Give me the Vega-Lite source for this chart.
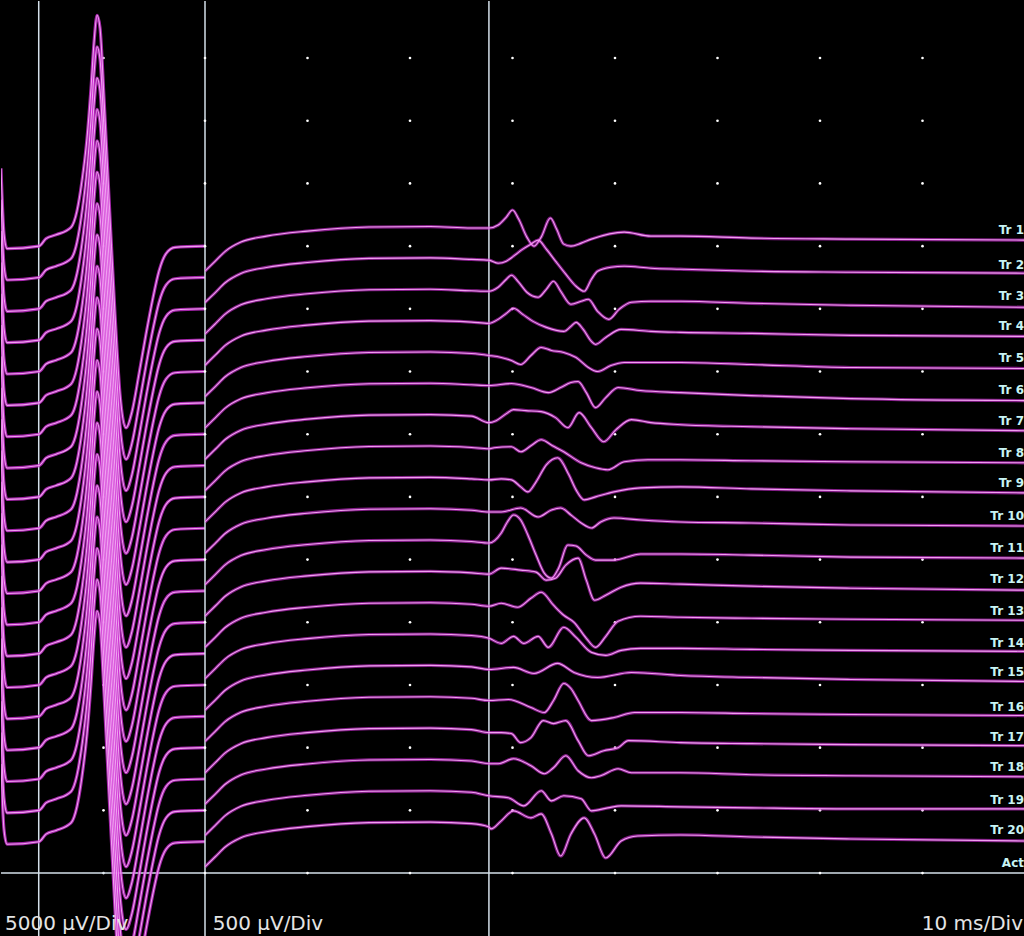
{
"$schema":"https://vega.github.io/schema/vega-lite/v6.json",
"background":"#000000",
"padding":0,
"spacing":0,
"bounds":"flush",
"config":{"view":{"stroke":null}},
"datasets":{
"dl":[{"x":10,"y":0},{"x":10,"y":5000},{"x":10,"y":10000},{"x":10,"y":15000},{"x":10,"y":20000},{"x":10,"y":25000},{"x":10,"y":30000},{"x":10,"y":35000},{"x":10,"y":40000},{"x":10,"y":45000},{"x":10,"y":50000},{"x":10,"y":55000},{"x":10,"y":60000},{"x":10,"y":65000}],
"dr":[
{"x":0,"y":0},{"x":0,"y":500},{"x":0,"y":1000},{"x":0,"y":1500},{"x":0,"y":2000},{"x":0,"y":2500},{"x":0,"y":3000},{"x":0,"y":3500},{"x":0,"y":4000},{"x":0,"y":4500},{"x":0,"y":5000},{"x":0,"y":5500},{"x":0,"y":6000},{"x":0,"y":6500},
{"x":10,"y":0},{"x":10,"y":500},{"x":10,"y":1000},{"x":10,"y":1500},{"x":10,"y":2000},{"x":10,"y":2500},{"x":10,"y":3000},{"x":10,"y":3500},{"x":10,"y":4000},{"x":10,"y":4500},{"x":10,"y":5000},{"x":10,"y":5500},{"x":10,"y":6000},{"x":10,"y":6500},
{"x":20,"y":0},{"x":20,"y":500},{"x":20,"y":1000},{"x":20,"y":1500},{"x":20,"y":2000},{"x":20,"y":2500},{"x":20,"y":3000},{"x":20,"y":3500},{"x":20,"y":4000},{"x":20,"y":4500},{"x":20,"y":5000},{"x":20,"y":5500},{"x":20,"y":6000},{"x":20,"y":6500},
{"x":30,"y":0},{"x":30,"y":500},{"x":30,"y":1000},{"x":30,"y":1500},{"x":30,"y":2000},{"x":30,"y":2500},{"x":30,"y":3000},{"x":30,"y":3500},{"x":30,"y":4000},{"x":30,"y":4500},{"x":30,"y":5000},{"x":30,"y":5500},{"x":30,"y":6000},{"x":30,"y":6500},
{"x":40,"y":0},{"x":40,"y":500},{"x":40,"y":1000},{"x":40,"y":1500},{"x":40,"y":2000},{"x":40,"y":2500},{"x":40,"y":3000},{"x":40,"y":3500},{"x":40,"y":4000},{"x":40,"y":4500},{"x":40,"y":5000},{"x":40,"y":5500},{"x":40,"y":6000},{"x":40,"y":6500},
{"x":50,"y":0},{"x":50,"y":500},{"x":50,"y":1000},{"x":50,"y":1500},{"x":50,"y":2000},{"x":50,"y":2500},{"x":50,"y":3000},{"x":50,"y":3500},{"x":50,"y":4000},{"x":50,"y":4500},{"x":50,"y":5000},{"x":50,"y":5500},{"x":50,"y":6000},{"x":50,"y":6500},
{"x":60,"y":0},{"x":60,"y":500},{"x":60,"y":1000},{"x":60,"y":1500},{"x":60,"y":2000},{"x":60,"y":2500},{"x":60,"y":3000},{"x":60,"y":3500},{"x":60,"y":4000},{"x":60,"y":4500},{"x":60,"y":5000},{"x":60,"y":5500},{"x":60,"y":6000},{"x":60,"y":6500},
{"x":70,"y":0},{"x":70,"y":500},{"x":70,"y":1000},{"x":70,"y":1500},{"x":70,"y":2000},{"x":70,"y":2500},{"x":70,"y":3000},{"x":70,"y":3500},{"x":70,"y":4000},{"x":70,"y":4500},{"x":70,"y":5000},{"x":70,"y":5500},{"x":70,"y":6000},{"x":70,"y":6500}],
"L":[
{"k":1,"x":0,"y":56200},{"k":1,"x":0.29,"y":51000},{"k":1,"x":0.59,"y":49800},{"k":1,"x":3.71,"y":50000},{"k":1,"x":4.39,"y":50600},{"k":1,"x":5.37,"y":50900},{"k":1,"x":6.83,"y":51500},{"k":1,"x":7.41,"y":52800},{"k":1,"x":7.9,"y":55200},{"k":1,"x":8.39,"y":58600},{"k":1,"x":8.78,"y":62600},{"k":1,"x":9.07,"y":66200},{"k":1,"x":9.37,"y":68400},{"k":1,"x":9.66,"y":67400},{"k":1,"x":10.05,"y":61800},{"k":1,"x":10.54,"y":53800},{"k":1,"x":11.12,"y":44600},{"k":1,"x":11.61,"y":38200},{"k":1,"x":12.2,"y":35500},{"k":1,"x":12.78,"y":36800},{"k":1,"x":13.46,"y":39800},{"k":1,"x":14.15,"y":43000},{"k":1,"x":14.83,"y":45900},{"k":1,"x":15.41,"y":48000},{"k":1,"x":16.1,"y":49400},{"k":1,"x":16.98,"y":49900},{"k":1,"x":19.9,"y":50000},
{"k":2,"x":0,"y":53700},{"k":2,"x":0.29,"y":48500},{"k":2,"x":0.59,"y":47300},{"k":2,"x":3.71,"y":47500},{"k":2,"x":4.39,"y":48100},{"k":2,"x":5.37,"y":48400},{"k":2,"x":6.83,"y":49000},{"k":2,"x":7.41,"y":50300},{"k":2,"x":7.9,"y":52700},{"k":2,"x":8.39,"y":56100},{"k":2,"x":8.78,"y":60100},{"k":2,"x":9.07,"y":63700},{"k":2,"x":9.37,"y":65900},{"k":2,"x":9.66,"y":64900},{"k":2,"x":10.05,"y":59300},{"k":2,"x":10.54,"y":51300},{"k":2,"x":11.12,"y":42100},{"k":2,"x":11.61,"y":35700},{"k":2,"x":12.2,"y":33000},{"k":2,"x":12.78,"y":34300},{"k":2,"x":13.46,"y":37300},{"k":2,"x":14.15,"y":40500},{"k":2,"x":14.83,"y":43400},{"k":2,"x":15.41,"y":45500},{"k":2,"x":16.1,"y":46900},{"k":2,"x":16.98,"y":47400},{"k":2,"x":19.9,"y":47500},
{"k":3,"x":0,"y":51200},{"k":3,"x":0.29,"y":46000},{"k":3,"x":0.59,"y":44800},{"k":3,"x":3.71,"y":45000},{"k":3,"x":4.39,"y":45600},{"k":3,"x":5.37,"y":45900},{"k":3,"x":6.83,"y":46500},{"k":3,"x":7.41,"y":47800},{"k":3,"x":7.9,"y":50200},{"k":3,"x":8.39,"y":53600},{"k":3,"x":8.78,"y":57600},{"k":3,"x":9.07,"y":61200},{"k":3,"x":9.37,"y":63400},{"k":3,"x":9.66,"y":62400},{"k":3,"x":10.05,"y":56800},{"k":3,"x":10.54,"y":48800},{"k":3,"x":11.12,"y":39600},{"k":3,"x":11.61,"y":33200},{"k":3,"x":12.2,"y":30500},{"k":3,"x":12.78,"y":31800},{"k":3,"x":13.46,"y":34800},{"k":3,"x":14.15,"y":38000},{"k":3,"x":14.83,"y":40900},{"k":3,"x":15.41,"y":43000},{"k":3,"x":16.1,"y":44400},{"k":3,"x":16.98,"y":44900},{"k":3,"x":19.9,"y":45000},
{"k":4,"x":0,"y":48700},{"k":4,"x":0.29,"y":43500},{"k":4,"x":0.59,"y":42300},{"k":4,"x":3.71,"y":42500},{"k":4,"x":4.39,"y":43100},{"k":4,"x":5.37,"y":43400},{"k":4,"x":6.83,"y":44000},{"k":4,"x":7.41,"y":45300},{"k":4,"x":7.9,"y":47700},{"k":4,"x":8.39,"y":51100},{"k":4,"x":8.78,"y":55100},{"k":4,"x":9.07,"y":58700},{"k":4,"x":9.37,"y":60900},{"k":4,"x":9.66,"y":59900},{"k":4,"x":10.05,"y":54300},{"k":4,"x":10.54,"y":46300},{"k":4,"x":11.12,"y":37100},{"k":4,"x":11.61,"y":30700},{"k":4,"x":12.2,"y":28000},{"k":4,"x":12.78,"y":29300},{"k":4,"x":13.46,"y":32300},{"k":4,"x":14.15,"y":35500},{"k":4,"x":14.83,"y":38400},{"k":4,"x":15.41,"y":40500},{"k":4,"x":16.1,"y":41900},{"k":4,"x":16.98,"y":42400},{"k":4,"x":19.9,"y":42500},
{"k":5,"x":0,"y":46200},{"k":5,"x":0.29,"y":41000},{"k":5,"x":0.59,"y":39800},{"k":5,"x":3.71,"y":40000},{"k":5,"x":4.39,"y":40600},{"k":5,"x":5.37,"y":40900},{"k":5,"x":6.83,"y":41500},{"k":5,"x":7.41,"y":42800},{"k":5,"x":7.9,"y":45200},{"k":5,"x":8.39,"y":48600},{"k":5,"x":8.78,"y":52600},{"k":5,"x":9.07,"y":56200},{"k":5,"x":9.37,"y":58400},{"k":5,"x":9.66,"y":57400},{"k":5,"x":10.05,"y":51800},{"k":5,"x":10.54,"y":43800},{"k":5,"x":11.12,"y":34600},{"k":5,"x":11.61,"y":28200},{"k":5,"x":12.2,"y":25500},{"k":5,"x":12.78,"y":26800},{"k":5,"x":13.46,"y":29800},{"k":5,"x":14.15,"y":33000},{"k":5,"x":14.83,"y":35900},{"k":5,"x":15.41,"y":38000},{"k":5,"x":16.1,"y":39400},{"k":5,"x":16.98,"y":39900},{"k":5,"x":19.9,"y":40000},
{"k":6,"x":0,"y":43700},{"k":6,"x":0.29,"y":38500},{"k":6,"x":0.59,"y":37300},{"k":6,"x":3.71,"y":37500},{"k":6,"x":4.39,"y":38100},{"k":6,"x":5.37,"y":38400},{"k":6,"x":6.83,"y":39000},{"k":6,"x":7.41,"y":40300},{"k":6,"x":7.9,"y":42700},{"k":6,"x":8.39,"y":46100},{"k":6,"x":8.78,"y":50100},{"k":6,"x":9.07,"y":53700},{"k":6,"x":9.37,"y":55900},{"k":6,"x":9.66,"y":54900},{"k":6,"x":10.05,"y":49300},{"k":6,"x":10.54,"y":41300},{"k":6,"x":11.12,"y":32100},{"k":6,"x":11.61,"y":25700},{"k":6,"x":12.2,"y":23000},{"k":6,"x":12.78,"y":24300},{"k":6,"x":13.46,"y":27300},{"k":6,"x":14.15,"y":30500},{"k":6,"x":14.83,"y":33400},{"k":6,"x":15.41,"y":35500},{"k":6,"x":16.1,"y":36900},{"k":6,"x":16.98,"y":37400},{"k":6,"x":19.9,"y":37500},
{"k":7,"x":0,"y":41200},{"k":7,"x":0.29,"y":36000},{"k":7,"x":0.59,"y":34800},{"k":7,"x":3.71,"y":35000},{"k":7,"x":4.39,"y":35600},{"k":7,"x":5.37,"y":35900},{"k":7,"x":6.83,"y":36500},{"k":7,"x":7.41,"y":37800},{"k":7,"x":7.9,"y":40200},{"k":7,"x":8.39,"y":43600},{"k":7,"x":8.78,"y":47600},{"k":7,"x":9.07,"y":51200},{"k":7,"x":9.37,"y":53400},{"k":7,"x":9.66,"y":52400},{"k":7,"x":10.05,"y":46800},{"k":7,"x":10.54,"y":38800},{"k":7,"x":11.12,"y":29600},{"k":7,"x":11.61,"y":23200},{"k":7,"x":12.2,"y":20500},{"k":7,"x":12.78,"y":21800},{"k":7,"x":13.46,"y":24800},{"k":7,"x":14.15,"y":28000},{"k":7,"x":14.83,"y":30900},{"k":7,"x":15.41,"y":33000},{"k":7,"x":16.1,"y":34400},{"k":7,"x":16.98,"y":34900},{"k":7,"x":19.9,"y":35000},
{"k":8,"x":0,"y":38700},{"k":8,"x":0.29,"y":33500},{"k":8,"x":0.59,"y":32300},{"k":8,"x":3.71,"y":32500},{"k":8,"x":4.39,"y":33100},{"k":8,"x":5.37,"y":33400},{"k":8,"x":6.83,"y":34000},{"k":8,"x":7.41,"y":35300},{"k":8,"x":7.9,"y":37700},{"k":8,"x":8.39,"y":41100},{"k":8,"x":8.78,"y":45100},{"k":8,"x":9.07,"y":48700},{"k":8,"x":9.37,"y":50900},{"k":8,"x":9.66,"y":49900},{"k":8,"x":10.05,"y":44300},{"k":8,"x":10.54,"y":36300},{"k":8,"x":11.12,"y":27100},{"k":8,"x":11.61,"y":20700},{"k":8,"x":12.2,"y":18000},{"k":8,"x":12.78,"y":19300},{"k":8,"x":13.46,"y":22300},{"k":8,"x":14.15,"y":25500},{"k":8,"x":14.83,"y":28400},{"k":8,"x":15.41,"y":30500},{"k":8,"x":16.1,"y":31900},{"k":8,"x":16.98,"y":32400},{"k":8,"x":19.9,"y":32500},
{"k":9,"x":0,"y":36200},{"k":9,"x":0.29,"y":31000},{"k":9,"x":0.59,"y":29800},{"k":9,"x":3.71,"y":30000},{"k":9,"x":4.39,"y":30600},{"k":9,"x":5.37,"y":30900},{"k":9,"x":6.83,"y":31500},{"k":9,"x":7.41,"y":32800},{"k":9,"x":7.9,"y":35200},{"k":9,"x":8.39,"y":38600},{"k":9,"x":8.78,"y":42600},{"k":9,"x":9.07,"y":46200},{"k":9,"x":9.37,"y":48400},{"k":9,"x":9.66,"y":47400},{"k":9,"x":10.05,"y":41800},{"k":9,"x":10.54,"y":33800},{"k":9,"x":11.12,"y":24600},{"k":9,"x":11.61,"y":18200},{"k":9,"x":12.2,"y":15500},{"k":9,"x":12.78,"y":16800},{"k":9,"x":13.46,"y":19800},{"k":9,"x":14.15,"y":23000},{"k":9,"x":14.83,"y":25900},{"k":9,"x":15.41,"y":28000},{"k":9,"x":16.1,"y":29400},{"k":9,"x":16.98,"y":29900},{"k":9,"x":19.9,"y":30000},
{"k":10,"x":0,"y":33700},{"k":10,"x":0.29,"y":28500},{"k":10,"x":0.59,"y":27300},{"k":10,"x":3.71,"y":27500},{"k":10,"x":4.39,"y":28100},{"k":10,"x":5.37,"y":28400},{"k":10,"x":6.83,"y":29000},{"k":10,"x":7.41,"y":30300},{"k":10,"x":7.9,"y":32700},{"k":10,"x":8.39,"y":36100},{"k":10,"x":8.78,"y":40100},{"k":10,"x":9.07,"y":43700},{"k":10,"x":9.37,"y":45900},{"k":10,"x":9.66,"y":44900},{"k":10,"x":10.05,"y":39300},{"k":10,"x":10.54,"y":31300},{"k":10,"x":11.12,"y":22100},{"k":10,"x":11.61,"y":15700},{"k":10,"x":12.2,"y":13000},{"k":10,"x":12.78,"y":14300},{"k":10,"x":13.46,"y":17300},{"k":10,"x":14.15,"y":20500},{"k":10,"x":14.83,"y":23400},{"k":10,"x":15.41,"y":25500},{"k":10,"x":16.1,"y":26900},{"k":10,"x":16.98,"y":27400},{"k":10,"x":19.9,"y":27500},
{"k":11,"x":0,"y":31200},{"k":11,"x":0.29,"y":26000},{"k":11,"x":0.59,"y":24800},{"k":11,"x":3.71,"y":25000},{"k":11,"x":4.39,"y":25600},{"k":11,"x":5.37,"y":25900},{"k":11,"x":6.83,"y":26500},{"k":11,"x":7.41,"y":27800},{"k":11,"x":7.9,"y":30200},{"k":11,"x":8.39,"y":33600},{"k":11,"x":8.78,"y":37600},{"k":11,"x":9.07,"y":41200},{"k":11,"x":9.37,"y":43400},{"k":11,"x":9.66,"y":42400},{"k":11,"x":10.05,"y":36800},{"k":11,"x":10.54,"y":28800},{"k":11,"x":11.12,"y":19600},{"k":11,"x":11.61,"y":13200},{"k":11,"x":12.2,"y":10500},{"k":11,"x":12.78,"y":11800},{"k":11,"x":13.46,"y":14800},{"k":11,"x":14.15,"y":18000},{"k":11,"x":14.83,"y":20900},{"k":11,"x":15.41,"y":23000},{"k":11,"x":16.1,"y":24400},{"k":11,"x":16.98,"y":24900},{"k":11,"x":19.9,"y":25000},
{"k":12,"x":0,"y":28700},{"k":12,"x":0.29,"y":23500},{"k":12,"x":0.59,"y":22300},{"k":12,"x":3.71,"y":22500},{"k":12,"x":4.39,"y":23100},{"k":12,"x":5.37,"y":23400},{"k":12,"x":6.83,"y":24000},{"k":12,"x":7.41,"y":25300},{"k":12,"x":7.9,"y":27700},{"k":12,"x":8.39,"y":31100},{"k":12,"x":8.78,"y":35100},{"k":12,"x":9.07,"y":38700},{"k":12,"x":9.37,"y":40900},{"k":12,"x":9.66,"y":39900},{"k":12,"x":10.05,"y":34300},{"k":12,"x":10.54,"y":26300},{"k":12,"x":11.12,"y":17100},{"k":12,"x":11.61,"y":10700},{"k":12,"x":12.2,"y":8000},{"k":12,"x":12.78,"y":9300},{"k":12,"x":13.46,"y":12300},{"k":12,"x":14.15,"y":15500},{"k":12,"x":14.83,"y":18400},{"k":12,"x":15.41,"y":20500},{"k":12,"x":16.1,"y":21900},{"k":12,"x":16.98,"y":22400},{"k":12,"x":19.9,"y":22500},
{"k":13,"x":0,"y":26200},{"k":13,"x":0.29,"y":21000},{"k":13,"x":0.59,"y":19800},{"k":13,"x":3.71,"y":20000},{"k":13,"x":4.39,"y":20600},{"k":13,"x":5.37,"y":20900},{"k":13,"x":6.83,"y":21500},{"k":13,"x":7.41,"y":22800},{"k":13,"x":7.9,"y":25200},{"k":13,"x":8.39,"y":28600},{"k":13,"x":8.78,"y":32600},{"k":13,"x":9.07,"y":36200},{"k":13,"x":9.37,"y":38400},{"k":13,"x":9.66,"y":37400},{"k":13,"x":10.05,"y":31800},{"k":13,"x":10.54,"y":23800},{"k":13,"x":11.12,"y":14600},{"k":13,"x":11.61,"y":8200},{"k":13,"x":12.2,"y":5500},{"k":13,"x":12.78,"y":6800},{"k":13,"x":13.46,"y":9800},{"k":13,"x":14.15,"y":13000},{"k":13,"x":14.83,"y":15900},{"k":13,"x":15.41,"y":18000},{"k":13,"x":16.1,"y":19400},{"k":13,"x":16.98,"y":19900},{"k":13,"x":19.9,"y":20000},
{"k":14,"x":0,"y":23700},{"k":14,"x":0.29,"y":18500},{"k":14,"x":0.59,"y":17300},{"k":14,"x":3.71,"y":17500},{"k":14,"x":4.39,"y":18100},{"k":14,"x":5.37,"y":18400},{"k":14,"x":6.83,"y":19000},{"k":14,"x":7.41,"y":20300},{"k":14,"x":7.9,"y":22700},{"k":14,"x":8.39,"y":26100},{"k":14,"x":8.78,"y":30100},{"k":14,"x":9.07,"y":33700},{"k":14,"x":9.37,"y":35900},{"k":14,"x":9.66,"y":34900},{"k":14,"x":10.05,"y":29300},{"k":14,"x":10.54,"y":21300},{"k":14,"x":11.12,"y":12100},{"k":14,"x":11.61,"y":5700},{"k":14,"x":12.2,"y":3000},{"k":14,"x":12.78,"y":4300},{"k":14,"x":13.46,"y":7300},{"k":14,"x":14.15,"y":10500},{"k":14,"x":14.83,"y":13400},{"k":14,"x":15.41,"y":15500},{"k":14,"x":16.1,"y":16900},{"k":14,"x":16.98,"y":17400},{"k":14,"x":19.9,"y":17500},
{"k":15,"x":0,"y":21200},{"k":15,"x":0.29,"y":16000},{"k":15,"x":0.59,"y":14800},{"k":15,"x":3.71,"y":15000},{"k":15,"x":4.39,"y":15600},{"k":15,"x":5.37,"y":15900},{"k":15,"x":6.83,"y":16500},{"k":15,"x":7.41,"y":17800},{"k":15,"x":7.9,"y":20200},{"k":15,"x":8.39,"y":23600},{"k":15,"x":8.78,"y":27600},{"k":15,"x":9.07,"y":31200},{"k":15,"x":9.37,"y":33400},{"k":15,"x":9.66,"y":32400},{"k":15,"x":10.05,"y":26800},{"k":15,"x":10.54,"y":18800},{"k":15,"x":11.12,"y":9600},{"k":15,"x":11.61,"y":3200},{"k":15,"x":12.2,"y":500},{"k":15,"x":12.78,"y":1800},{"k":15,"x":13.46,"y":4800},{"k":15,"x":14.15,"y":8000},{"k":15,"x":14.83,"y":10900},{"k":15,"x":15.41,"y":13000},{"k":15,"x":16.1,"y":14400},{"k":15,"x":16.98,"y":14900},{"k":15,"x":19.9,"y":15000},
{"k":16,"x":0,"y":18700},{"k":16,"x":0.29,"y":13500},{"k":16,"x":0.59,"y":12300},{"k":16,"x":3.71,"y":12500},{"k":16,"x":4.39,"y":13100},{"k":16,"x":5.37,"y":13400},{"k":16,"x":6.83,"y":14000},{"k":16,"x":7.41,"y":15300},{"k":16,"x":7.9,"y":17700},{"k":16,"x":8.39,"y":21100},{"k":16,"x":8.78,"y":25100},{"k":16,"x":9.07,"y":28700},{"k":16,"x":9.37,"y":30900},{"k":16,"x":9.66,"y":29900},{"k":16,"x":10.05,"y":24300},{"k":16,"x":10.54,"y":16300},{"k":16,"x":11.12,"y":7100},{"k":16,"x":11.61,"y":700},{"k":16,"x":12.2,"y":-2000},{"k":16,"x":12.78,"y":-700},{"k":16,"x":13.46,"y":2300},{"k":16,"x":14.15,"y":5500},{"k":16,"x":14.83,"y":8400},{"k":16,"x":15.41,"y":10500},{"k":16,"x":16.1,"y":11900},{"k":16,"x":16.98,"y":12400},{"k":16,"x":19.9,"y":12500},
{"k":17,"x":0,"y":16200},{"k":17,"x":0.29,"y":11000},{"k":17,"x":0.59,"y":9800},{"k":17,"x":3.71,"y":10000},{"k":17,"x":4.39,"y":10600},{"k":17,"x":5.37,"y":10900},{"k":17,"x":6.83,"y":11500},{"k":17,"x":7.41,"y":12800},{"k":17,"x":7.9,"y":15200},{"k":17,"x":8.39,"y":18600},{"k":17,"x":8.78,"y":22600},{"k":17,"x":9.07,"y":26200},{"k":17,"x":9.37,"y":28400},{"k":17,"x":9.66,"y":27400},{"k":17,"x":10.05,"y":21800},{"k":17,"x":10.54,"y":13800},{"k":17,"x":11.12,"y":4600},{"k":17,"x":11.61,"y":-1800},{"k":17,"x":12.2,"y":-4500},{"k":17,"x":12.78,"y":-3200},{"k":17,"x":13.46,"y":-200},{"k":17,"x":14.15,"y":3000},{"k":17,"x":14.83,"y":5900},{"k":17,"x":15.41,"y":8000},{"k":17,"x":16.1,"y":9400},{"k":17,"x":16.98,"y":9900},{"k":17,"x":19.9,"y":10000},
{"k":18,"x":0,"y":13700},{"k":18,"x":0.29,"y":8500},{"k":18,"x":0.59,"y":7300},{"k":18,"x":3.71,"y":7500},{"k":18,"x":4.39,"y":8100},{"k":18,"x":5.37,"y":8400},{"k":18,"x":6.83,"y":9000},{"k":18,"x":7.41,"y":10300},{"k":18,"x":7.9,"y":12700},{"k":18,"x":8.39,"y":16100},{"k":18,"x":8.78,"y":20100},{"k":18,"x":9.07,"y":23700},{"k":18,"x":9.37,"y":25900},{"k":18,"x":9.66,"y":24900},{"k":18,"x":10.05,"y":19300},{"k":18,"x":10.54,"y":11300},{"k":18,"x":11.12,"y":2100},{"k":18,"x":11.61,"y":-4300},{"k":18,"x":12.2,"y":-7000},{"k":18,"x":12.78,"y":-5700},{"k":18,"x":13.46,"y":-2700},{"k":18,"x":14.15,"y":500},{"k":18,"x":14.83,"y":3400},{"k":18,"x":15.41,"y":5500},{"k":18,"x":16.1,"y":6900},{"k":18,"x":16.98,"y":7400},{"k":18,"x":19.9,"y":7500},
{"k":19,"x":0,"y":11200},{"k":19,"x":0.29,"y":6000},{"k":19,"x":0.59,"y":4800},{"k":19,"x":3.71,"y":5000},{"k":19,"x":4.39,"y":5600},{"k":19,"x":5.37,"y":5900},{"k":19,"x":6.83,"y":6500},{"k":19,"x":7.41,"y":7800},{"k":19,"x":7.9,"y":10200},{"k":19,"x":8.39,"y":13600},{"k":19,"x":8.78,"y":17600},{"k":19,"x":9.07,"y":21200},{"k":19,"x":9.37,"y":23400},{"k":19,"x":9.66,"y":22400},{"k":19,"x":10.05,"y":16800},{"k":19,"x":10.54,"y":8800},{"k":19,"x":11.12,"y":-400},{"k":19,"x":11.61,"y":-6800},{"k":19,"x":12.2,"y":-9500},{"k":19,"x":12.78,"y":-8200},{"k":19,"x":13.46,"y":-5200},{"k":19,"x":14.15,"y":-2000},{"k":19,"x":14.83,"y":900},{"k":19,"x":15.41,"y":3000},{"k":19,"x":16.1,"y":4400},{"k":19,"x":16.98,"y":4900},{"k":19,"x":19.9,"y":5000},
{"k":20,"x":0,"y":8700},{"k":20,"x":0.29,"y":3500},{"k":20,"x":0.59,"y":2300},{"k":20,"x":3.71,"y":2500},{"k":20,"x":4.39,"y":3100},{"k":20,"x":5.37,"y":3400},{"k":20,"x":6.83,"y":4000},{"k":20,"x":7.41,"y":5300},{"k":20,"x":7.9,"y":7700},{"k":20,"x":8.39,"y":11100},{"k":20,"x":8.78,"y":15100},{"k":20,"x":9.07,"y":18700},{"k":20,"x":9.37,"y":20900},{"k":20,"x":9.66,"y":19900},{"k":20,"x":10.05,"y":14300},{"k":20,"x":10.54,"y":6300},{"k":20,"x":11.12,"y":-2900},{"k":20,"x":11.61,"y":-9300},{"k":20,"x":12.2,"y":-12000},{"k":20,"x":12.78,"y":-10700},{"k":20,"x":13.46,"y":-7700},{"k":20,"x":14.15,"y":-4500},{"k":20,"x":14.83,"y":-1600},{"k":20,"x":15.41,"y":500},{"k":20,"x":16.1,"y":1900},{"k":20,"x":16.98,"y":2400},{"k":20,"x":19.9,"y":2500}
],
"R":[
{"k":1,"x":0,"y":4800},{"k":1,"x":1,"y":4880},{"k":1,"x":2,"y":4960},{"k":1,"x":3.5,"y":5032},{"k":1,"x":6,"y":5080},{"k":1,"x":10,"y":5120},{"k":1,"x":16,"y":5152},{"k":1,"x":22,"y":5156},{"k":1,"x":26,"y":5144},
{"k":1,"x":27.7,"y":5144},{"k":1,"x":28.6,"y":5168},{"k":1,"x":29.4,"y":5232},{"k":1,"x":30.0,"y":5288},{"k":1,"x":30.6,"y":5216},{"k":1,"x":31.4,"y":5072},{"k":1,"x":32.1,"y":5000},{"k":1,"x":32.8,"y":5072},{"k":1,"x":33.7,"y":5224},{"k":1,"x":34.3,"y":5136},{"k":1,"x":35.0,"y":5016},{"k":1,"x":35.7,"y":5000},{"k":1,"x":36.7,"y":5024},{"k":1,"x":37.7,"y":5056},{"k":1,"x":40.9,"y":5112},{"k":1,"x":43.5,"y":5080},{"k":1,"x":46.4,"y":5080},{"k":1,"x":53.3,"y":5064},{"k":1,"x":63,"y":5056},{"k":1,"x":80,"y":5048},
{"k":2,"x":0,"y":4550},{"k":2,"x":1,"y":4630},{"k":2,"x":2,"y":4710},{"k":2,"x":3.5,"y":4782},{"k":2,"x":6,"y":4830},{"k":2,"x":10,"y":4870},{"k":2,"x":16,"y":4902},{"k":2,"x":22,"y":4906},{"k":2,"x":26,"y":4894},
{"k":2,"x":27.7,"y":4888},{"k":2,"x":28.6,"y":4864},{"k":2,"x":29.4,"y":4880},{"k":2,"x":30.1,"y":4920},{"k":2,"x":31.0,"y":4976},{"k":2,"x":31.8,"y":5016},{"k":2,"x":32.5,"y":5048},{"k":2,"x":33.3,"y":4976},{"k":2,"x":34.2,"y":4880},{"k":2,"x":35.2,"y":4776},{"k":2,"x":36.2,"y":4680},{"k":2,"x":37.0,"y":4640},{"k":2,"x":37.7,"y":4736},{"k":2,"x":38.3,"y":4800},{"k":2,"x":39.6,"y":4832},{"k":2,"x":40.9,"y":4840},{"k":2,"x":43.5,"y":4824},{"k":2,"x":46.4,"y":4816},{"k":2,"x":53.3,"y":4800},{"k":2,"x":63,"y":4792},{"k":2,"x":80,"y":4784},
{"k":3,"x":0,"y":4300},{"k":3,"x":1,"y":4380},{"k":3,"x":2,"y":4460},{"k":3,"x":3.5,"y":4532},{"k":3,"x":6,"y":4580},{"k":3,"x":10,"y":4620},{"k":3,"x":16,"y":4652},{"k":3,"x":22,"y":4656},{"k":3,"x":26,"y":4644},
{"k":3,"x":27.7,"y":4640},{"k":3,"x":28.6,"y":4672},{"k":3,"x":29.4,"y":4736},{"k":3,"x":29.9,"y":4768},{"k":3,"x":30.6,"y":4712},{"k":3,"x":31.4,"y":4632},{"k":3,"x":32.5,"y":4592},{"k":3,"x":33.3,"y":4656},{"k":3,"x":34.0,"y":4720},{"k":3,"x":34.7,"y":4640},{"k":3,"x":35.7,"y":4536},{"k":3,"x":36.7,"y":4560},{"k":3,"x":37.4,"y":4576},{"k":3,"x":38.3,"y":4480},{"k":3,"x":39.4,"y":4416},{"k":3,"x":40.4,"y":4496},{"k":3,"x":41.6,"y":4552},{"k":3,"x":43.5,"y":4560},{"k":3,"x":46.4,"y":4560},{"k":3,"x":53.3,"y":4544},{"k":3,"x":63,"y":4528},{"k":3,"x":80,"y":4512},
{"k":4,"x":0,"y":4050},{"k":4,"x":1,"y":4130},{"k":4,"x":2,"y":4210},{"k":4,"x":3.5,"y":4282},{"k":4,"x":6,"y":4330},{"k":4,"x":10,"y":4370},{"k":4,"x":16,"y":4402},{"k":4,"x":22,"y":4406},{"k":4,"x":26,"y":4394},
{"k":4,"x":27.7,"y":4384},{"k":4,"x":28.6,"y":4416},{"k":4,"x":29.4,"y":4464},{"k":4,"x":30.1,"y":4504},{"k":4,"x":31.0,"y":4456},{"k":4,"x":32.0,"y":4400},{"k":4,"x":33.3,"y":4352},{"k":4,"x":35.0,"y":4320},{"k":4,"x":35.7,"y":4360},{"k":4,"x":36.2,"y":4392},{"k":4,"x":36.9,"y":4336},{"k":4,"x":37.7,"y":4240},{"k":4,"x":38.1,"y":4216},{"k":4,"x":39.1,"y":4272},{"k":4,"x":40.6,"y":4336},{"k":4,"x":43.5,"y":4320},{"k":4,"x":46.4,"y":4312},{"k":4,"x":53.3,"y":4304},{"k":4,"x":63,"y":4288},{"k":4,"x":80,"y":4280},
{"k":5,"x":0,"y":3800},{"k":5,"x":1,"y":3880},{"k":5,"x":2,"y":3960},{"k":5,"x":3.5,"y":4032},{"k":5,"x":6,"y":4080},{"k":5,"x":10,"y":4120},{"k":5,"x":16,"y":4152},{"k":5,"x":22,"y":4156},{"k":5,"x":26,"y":4144},
{"k":5,"x":27.7,"y":4128},{"k":5,"x":28.9,"y":4112},{"k":5,"x":29.9,"y":4088},{"k":5,"x":30.8,"y":4056},{"k":5,"x":31.8,"y":4128},{"k":5,"x":32.8,"y":4192},{"k":5,"x":33.8,"y":4168},{"k":5,"x":35.0,"y":4152},{"k":5,"x":36.2,"y":4112},{"k":5,"x":37.4,"y":4032},{"k":5,"x":38.3,"y":4000},{"k":5,"x":39.6,"y":4048},{"k":5,"x":40.9,"y":4072},{"k":5,"x":43.5,"y":4072},{"k":5,"x":46.4,"y":4072},{"k":5,"x":53.3,"y":4056},{"k":5,"x":63,"y":4032},{"k":5,"x":80,"y":4024},
{"k":6,"x":0,"y":3550},{"k":6,"x":1,"y":3630},{"k":6,"x":2,"y":3710},{"k":6,"x":3.5,"y":3782},{"k":6,"x":6,"y":3830},{"k":6,"x":10,"y":3870},{"k":6,"x":16,"y":3902},{"k":6,"x":22,"y":3906},{"k":6,"x":26,"y":3894},
{"k":6,"x":27.7,"y":3888},{"k":6,"x":29.9,"y":3904},{"k":6,"x":31.8,"y":3872},{"k":6,"x":33.5,"y":3832},{"k":6,"x":34.7,"y":3872},{"k":6,"x":35.7,"y":3912},{"k":6,"x":36.4,"y":3920},{"k":6,"x":37.2,"y":3832},{"k":6,"x":38.1,"y":3712},{"k":6,"x":39.1,"y":3792},{"k":6,"x":40.3,"y":3872},{"k":6,"x":42.5,"y":3848},{"k":6,"x":46.4,"y":3832},{"k":6,"x":53.3,"y":3808},{"k":6,"x":63,"y":3784},{"k":6,"x":80,"y":3768},
{"k":7,"x":0,"y":3300},{"k":7,"x":1,"y":3380},{"k":7,"x":2,"y":3460},{"k":7,"x":3.5,"y":3532},{"k":7,"x":6,"y":3580},{"k":7,"x":10,"y":3620},{"k":7,"x":16,"y":3652},{"k":7,"x":22,"y":3656},{"k":7,"x":26,"y":3644},
{"k":7,"x":27.7,"y":3592},{"k":7,"x":28.4,"y":3608},{"k":7,"x":29.4,"y":3664},{"k":7,"x":30.1,"y":3696},{"k":7,"x":31.3,"y":3688},{"k":7,"x":32.8,"y":3680},{"k":7,"x":34.2,"y":3632},{"k":7,"x":35.4,"y":3552},{"k":7,"x":36.5,"y":3672},{"k":7,"x":37.7,"y":3552},{"k":7,"x":38.9,"y":3440},{"k":7,"x":40.1,"y":3536},{"k":7,"x":41.6,"y":3616},{"k":7,"x":43.5,"y":3592},{"k":7,"x":46.4,"y":3576},{"k":7,"x":53.3,"y":3560},{"k":7,"x":63,"y":3544},{"k":7,"x":80,"y":3528},
{"k":8,"x":0,"y":3050},{"k":8,"x":1,"y":3130},{"k":8,"x":2,"y":3210},{"k":8,"x":3.5,"y":3282},{"k":8,"x":6,"y":3330},{"k":8,"x":10,"y":3370},{"k":8,"x":16,"y":3402},{"k":8,"x":22,"y":3406},{"k":8,"x":26,"y":3394},
{"k":8,"x":27.7,"y":3384},{"k":8,"x":28.2,"y":3392},{"k":8,"x":29.9,"y":3400},{"k":8,"x":30.8,"y":3360},{"k":8,"x":31.8,"y":3408},{"k":8,"x":32.8,"y":3456},{"k":8,"x":33.9,"y":3408},{"k":8,"x":35.0,"y":3360},{"k":8,"x":36.7,"y":3272},{"k":8,"x":38.1,"y":3232},{"k":8,"x":39.3,"y":3216},{"k":8,"x":40.9,"y":3280},{"k":8,"x":43.2,"y":3296},{"k":8,"x":46.4,"y":3296},{"k":8,"x":53.3,"y":3288},{"k":8,"x":63,"y":3280},{"k":8,"x":80,"y":3272},
{"k":9,"x":0,"y":2800},{"k":9,"x":1,"y":2880},{"k":9,"x":2,"y":2960},{"k":9,"x":3.5,"y":3032},{"k":9,"x":6,"y":3080},{"k":9,"x":10,"y":3120},{"k":9,"x":16,"y":3152},{"k":9,"x":22,"y":3156},{"k":9,"x":26,"y":3144},
{"k":9,"x":27.7,"y":3136},{"k":9,"x":28.9,"y":3144},{"k":9,"x":29.9,"y":3136},{"k":9,"x":30.8,"y":3080},{"k":9,"x":31.5,"y":3040},{"k":9,"x":32.3,"y":3120},{"k":9,"x":33.3,"y":3256},{"k":9,"x":34.4,"y":3312},{"k":9,"x":35.5,"y":3176},{"k":9,"x":36.2,"y":3056},{"k":9,"x":37.0,"y":2976},{"k":9,"x":38.1,"y":3000},{"k":9,"x":39.9,"y":3040},{"k":9,"x":42.5,"y":3072},{"k":9,"x":46.4,"y":3080},{"k":9,"x":53.3,"y":3064},{"k":9,"x":63,"y":3048},{"k":9,"x":80,"y":3032},
{"k":10,"x":0,"y":2550},{"k":10,"x":1,"y":2630},{"k":10,"x":2,"y":2710},{"k":10,"x":3.5,"y":2782},{"k":10,"x":6,"y":2830},{"k":10,"x":10,"y":2870},{"k":10,"x":16,"y":2902},{"k":10,"x":22,"y":2906},{"k":10,"x":26,"y":2894},
{"k":10,"x":27.7,"y":2880},{"k":10,"x":28.9,"y":2880},{"k":10,"x":30.8,"y":2912},{"k":10,"x":32.5,"y":2840},{"k":10,"x":33.8,"y":2896},{"k":10,"x":34.7,"y":2912},{"k":10,"x":35.7,"y":2856},{"k":10,"x":36.7,"y":2792},{"k":10,"x":37.7,"y":2752},{"k":10,"x":38.6,"y":2800},{"k":10,"x":39.9,"y":2832},{"k":10,"x":42.5,"y":2816},{"k":10,"x":46.4,"y":2800},{"k":10,"x":53.3,"y":2792},{"k":10,"x":63,"y":2776},{"k":10,"x":80,"y":2768},
{"k":11,"x":0,"y":2300},{"k":11,"x":1,"y":2380},{"k":11,"x":2,"y":2460},{"k":11,"x":3.5,"y":2532},{"k":11,"x":6,"y":2580},{"k":11,"x":10,"y":2620},{"k":11,"x":16,"y":2652},{"k":11,"x":22,"y":2656},{"k":11,"x":26,"y":2644},
{"k":11,"x":27.7,"y":2632},{"k":11,"x":28.9,"y":2712},{"k":11,"x":29.5,"y":2800},{"k":11,"x":30.1,"y":2856},{"k":11,"x":30.8,"y":2816},{"k":11,"x":31.5,"y":2696},{"k":11,"x":32.3,"y":2536},{"k":11,"x":33.1,"y":2392},{"k":11,"x":33.8,"y":2352},{"k":11,"x":34.5,"y":2432},{"k":11,"x":35.4,"y":2616},{"k":11,"x":36.2,"y":2608},{"k":11,"x":37.2,"y":2536},{"k":11,"x":38.1,"y":2496},{"k":11,"x":39.9,"y":2496},{"k":11,"x":42.5,"y":2544},{"k":11,"x":46.4,"y":2544},{"k":11,"x":53.3,"y":2536},{"k":11,"x":63,"y":2520},{"k":11,"x":80,"y":2512},
{"k":12,"x":0,"y":2050},{"k":12,"x":1,"y":2130},{"k":12,"x":2,"y":2210},{"k":12,"x":3.5,"y":2282},{"k":12,"x":6,"y":2330},{"k":12,"x":10,"y":2370},{"k":12,"x":16,"y":2402},{"k":12,"x":22,"y":2406},{"k":12,"x":26,"y":2394},
{"k":12,"x":27.7,"y":2384},{"k":12,"x":28.9,"y":2432},{"k":12,"x":30.8,"y":2416},{"k":12,"x":32.3,"y":2400},{"k":12,"x":33.3,"y":2336},{"k":12,"x":34.2,"y":2352},{"k":12,"x":35.2,"y":2456},{"k":12,"x":36.4,"y":2512},{"k":12,"x":37.2,"y":2336},{"k":12,"x":38.0,"y":2176},{"k":12,"x":39.1,"y":2216},{"k":12,"x":40.6,"y":2280},{"k":12,"x":42.5,"y":2312},{"k":12,"x":46.4,"y":2304},{"k":12,"x":53.3,"y":2288},{"k":12,"x":63,"y":2272},{"k":12,"x":80,"y":2256},
{"k":13,"x":0,"y":1800},{"k":13,"x":1,"y":1880},{"k":13,"x":2,"y":1960},{"k":13,"x":3.5,"y":2032},{"k":13,"x":6,"y":2080},{"k":13,"x":10,"y":2120},{"k":13,"x":16,"y":2152},{"k":13,"x":22,"y":2156},{"k":13,"x":26,"y":2144},
{"k":13,"x":27.7,"y":2128},{"k":13,"x":28.9,"y":2152},{"k":13,"x":30.5,"y":2120},{"k":13,"x":31.8,"y":2192},{"k":13,"x":32.8,"y":2240},{"k":13,"x":34.0,"y":2136},{"k":13,"x":35.0,"y":2056},{"k":13,"x":36.0,"y":2000},{"k":13,"x":37.2,"y":1872},{"k":13,"x":38.1,"y":1800},{"k":13,"x":39.1,"y":1888},{"k":13,"x":40.3,"y":2008},{"k":13,"x":42.5,"y":2048},{"k":13,"x":46.4,"y":2040},{"k":13,"x":53.3,"y":2032},{"k":13,"x":63,"y":2024},{"k":13,"x":80,"y":2016},
{"k":14,"x":0,"y":1550},{"k":14,"x":1,"y":1630},{"k":14,"x":2,"y":1710},{"k":14,"x":3.5,"y":1782},{"k":14,"x":6,"y":1830},{"k":14,"x":10,"y":1870},{"k":14,"x":16,"y":1902},{"k":14,"x":22,"y":1906},{"k":14,"x":26,"y":1894},
{"k":14,"x":27.7,"y":1872},{"k":14,"x":28.9,"y":1832},{"k":14,"x":30.1,"y":1888},{"k":14,"x":31.1,"y":1832},{"k":14,"x":32.5,"y":1888},{"k":14,"x":33.5,"y":1800},{"k":14,"x":35.0,"y":1960},{"k":14,"x":36.2,"y":1880},{"k":14,"x":37.7,"y":1760},{"k":14,"x":39.1,"y":1736},{"k":14,"x":40.6,"y":1776},{"k":14,"x":42.5,"y":1792},{"k":14,"x":46.4,"y":1792},{"k":14,"x":53.3,"y":1784},{"k":14,"x":63,"y":1776},{"k":14,"x":80,"y":1768},
{"k":15,"x":0,"y":1300},{"k":15,"x":1,"y":1380},{"k":15,"x":2,"y":1460},{"k":15,"x":3.5,"y":1532},{"k":15,"x":6,"y":1580},{"k":15,"x":10,"y":1620},{"k":15,"x":16,"y":1652},{"k":15,"x":22,"y":1656},{"k":15,"x":26,"y":1644},
{"k":15,"x":27.7,"y":1624},{"k":15,"x":30.1,"y":1640},{"k":15,"x":32.1,"y":1592},{"k":15,"x":34.4,"y":1672},{"k":15,"x":36.0,"y":1600},{"k":15,"x":38.3,"y":1560},{"k":15,"x":41.6,"y":1600},{"k":15,"x":46.4,"y":1576},{"k":15,"x":53.3,"y":1560},{"k":15,"x":63,"y":1544},{"k":15,"x":80,"y":1528},
{"k":16,"x":0,"y":1050},{"k":16,"x":1,"y":1130},{"k":16,"x":2,"y":1210},{"k":16,"x":3.5,"y":1282},{"k":16,"x":6,"y":1330},{"k":16,"x":10,"y":1370},{"k":16,"x":16,"y":1402},{"k":16,"x":22,"y":1406},{"k":16,"x":26,"y":1394},
{"k":16,"x":27.7,"y":1376},{"k":16,"x":29.6,"y":1384},{"k":16,"x":31.8,"y":1320},{"k":16,"x":33.1,"y":1280},{"k":16,"x":34.0,"y":1376},{"k":16,"x":35.0,"y":1512},{"k":16,"x":35.7,"y":1472},{"k":16,"x":36.4,"y":1376},{"k":16,"x":37.7,"y":1216},{"k":16,"x":39.9,"y":1240},{"k":16,"x":41.9,"y":1280},{"k":16,"x":46.4,"y":1280},{"k":16,"x":53.3,"y":1272},{"k":16,"x":63,"y":1264},{"k":16,"x":80,"y":1256},
{"k":17,"x":0,"y":800},{"k":17,"x":1,"y":880},{"k":17,"x":2,"y":960},{"k":17,"x":3.5,"y":1032},{"k":17,"x":6,"y":1080},{"k":17,"x":10,"y":1120},{"k":17,"x":16,"y":1152},{"k":17,"x":22,"y":1156},{"k":17,"x":26,"y":1144},
{"k":17,"x":27.7,"y":1120},{"k":17,"x":28.9,"y":1120},{"k":17,"x":29.9,"y":1112},{"k":17,"x":30.8,"y":1040},{"k":17,"x":31.8,"y":1080},{"k":17,"x":33.0,"y":1216},{"k":17,"x":34.0,"y":1192},{"k":17,"x":35.2,"y":1216},{"k":17,"x":36.4,"y":1056},{"k":17,"x":37.4,"y":936},{"k":17,"x":38.9,"y":976},{"k":17,"x":40.3,"y":1000},{"k":17,"x":41.3,"y":1056},{"k":17,"x":46.4,"y":1040},{"k":17,"x":53.3,"y":1032},{"k":17,"x":63,"y":1024},{"k":17,"x":80,"y":1016},
{"k":18,"x":0,"y":550},{"k":18,"x":1,"y":630},{"k":18,"x":2,"y":710},{"k":18,"x":3.5,"y":782},{"k":18,"x":6,"y":830},{"k":18,"x":10,"y":870},{"k":18,"x":16,"y":902},{"k":18,"x":22,"y":906},{"k":18,"x":26,"y":894},
{"k":18,"x":27.7,"y":872},{"k":18,"x":28.6,"y":872},{"k":18,"x":30.1,"y":912},{"k":18,"x":31.8,"y":856},{"k":18,"x":33.1,"y":792},{"k":18,"x":34.0,"y":840},{"k":18,"x":35.2,"y":936},{"k":18,"x":36.4,"y":816},{"k":18,"x":37.7,"y":760},{"k":18,"x":38.6,"y":776},{"k":18,"x":40.3,"y":832},{"k":18,"x":41.6,"y":800},{"k":18,"x":46.4,"y":800},{"k":18,"x":53.3,"y":784},{"k":18,"x":63,"y":776},{"k":18,"x":80,"y":768},
{"k":19,"x":0,"y":300},{"k":19,"x":1,"y":380},{"k":19,"x":2,"y":460},{"k":19,"x":3.5,"y":532},{"k":19,"x":6,"y":580},{"k":19,"x":10,"y":620},{"k":19,"x":16,"y":652},{"k":19,"x":22,"y":656},{"k":19,"x":26,"y":644},
{"k":19,"x":27.7,"y":616},{"k":19,"x":29.6,"y":600},{"k":19,"x":31.1,"y":536},{"k":19,"x":32.8,"y":656},{"k":19,"x":33.8,"y":576},{"k":19,"x":35.0,"y":616},{"k":19,"x":36.7,"y":592},{"k":19,"x":37.7,"y":496},{"k":19,"x":39.3,"y":520},{"k":19,"x":40.6,"y":536},{"k":19,"x":46.4,"y":528},{"k":19,"x":53.3,"y":520},{"k":19,"x":63,"y":512},{"k":19,"x":80,"y":512},
{"k":20,"x":0,"y":50},{"k":20,"x":1,"y":130},{"k":20,"x":2,"y":210},{"k":20,"x":3.5,"y":282},{"k":20,"x":6,"y":330},{"k":20,"x":10,"y":370},{"k":20,"x":16,"y":402},{"k":20,"x":22,"y":406},{"k":20,"x":26,"y":394},
{"k":20,"x":27.7,"y":368},{"k":20,"x":27.9,"y":352},{"k":20,"x":28.9,"y":416},{"k":20,"x":30.1,"y":496},{"k":20,"x":31.8,"y":440},{"k":20,"x":32.8,"y":472},{"k":20,"x":33.8,"y":312},{"k":20,"x":34.7,"y":136},{"k":20,"x":35.7,"y":312},{"k":20,"x":37.0,"y":440},{"k":20,"x":38.0,"y":312},{"k":20,"x":39.1,"y":120},{"k":20,"x":40.6,"y":256},{"k":20,"x":42.2,"y":296},{"k":20,"x":46.4,"y":304},{"k":20,"x":53.3,"y":288},{"k":20,"x":63,"y":272},{"k":20,"x":80,"y":256}
],
"lab":[{"t":"Tr 1","x":80,"y":5096},{"t":"Tr 2","x":80,"y":4816},{"t":"Tr 3","x":80,"y":4568},{"t":"Tr 4","x":80,"y":4328},{"t":"Tr 5","x":80,"y":4072},{"t":"Tr 6","x":80,"y":3824},{"t":"Tr 7","x":80,"y":3576},{"t":"Tr 8","x":80,"y":3320},{"t":"Tr 9","x":80,"y":3080},{"t":"Tr 10","x":80,"y":2816},{"t":"Tr 11","x":80,"y":2560},{"t":"Tr 12","x":80,"y":2312},{"t":"Tr 13","x":80,"y":2056},{"t":"Tr 14","x":80,"y":1800},{"t":"Tr 15","x":80,"y":1568},{"t":"Tr 16","x":80,"y":1296},{"t":"Tr 17","x":80,"y":1056},{"t":"Tr 18","x":80,"y":816},{"t":"Tr 19","x":80,"y":552},{"t":"Tr 20","x":80,"y":312},{"t":"Act","x":80,"y":48}]
},
"hconcat":[
{"width":204,"height":936,
"encoding":{
"x":{"field":"x","type":"quantitative","scale":{"domain":[0,19.9],"nice":false,"zero":false},"axis":null},
"y":{"field":"y","type":"quantitative","scale":{"domain":[-5100,69550],"nice":false,"zero":false},"axis":null}},
"layer":[
{"data":{"name":"dl"},"mark":{"type":"point","filled":true,"size":7,"color":"#ffffff","opacity":1}},
{"data":{"values":[{"x":3.68}]},"mark":{"type":"rule","color":"#d4e0ea","strokeWidth":1.5},"encoding":{"y":null}},
{"data":{"values":[{"y":0}]},"mark":{"type":"rule","color":"#d4e0ea","strokeWidth":1.5},"encoding":{"x":null}},
{"data":{"name":"L"},"mark":{"type":"line","color":"#d830e0","strokeWidth":3.2,"opacity":0.75,"interpolate":"monotone","clip":true},"encoding":{"detail":{"field":"k","type":"nominal"}}},
{"data":{"name":"L"},"mark":{"type":"line","color":"#f0a0f0","strokeWidth":1.1,"interpolate":"monotone","clip":true},"encoding":{"detail":{"field":"k","type":"nominal"}}},
{"data":{"values":[{"t":"5000 µV/Div","x":0.4,"y":-4560}]},"mark":{"type":"text","align":"left","baseline":"alphabetic","font":"DejaVu Sans","fontSize":20,"color":"#e4e4e4"},"encoding":{"text":{"field":"t"}}}
]},
{"width":820,"height":936,
"encoding":{
"x":{"field":"x","type":"quantitative","scale":{"domain":[0,80],"nice":false,"zero":false},"axis":null},
"y":{"field":"y","type":"quantitative","scale":{"domain":[-510,6955],"nice":false,"zero":false},"axis":null}},
"layer":[
{"data":{"values":[{"x":0},{"x":27.7}]},"mark":{"type":"rule","color":"#d4e0ea","strokeWidth":1.5},"encoding":{"y":null}},
{"data":{"values":[{"y":0}]},"mark":{"type":"rule","color":"#d4e0ea","strokeWidth":1.5},"encoding":{"x":null}},
{"data":{"name":"dr"},"mark":{"type":"point","filled":true,"size":7,"color":"#ffffff","opacity":1}},
{"data":{"name":"R"},"mark":{"type":"line","color":"#d830e0","strokeWidth":3.2,"opacity":0.6,"interpolate":"monotone","clip":true},"encoding":{"detail":{"field":"k","type":"nominal"}}},
{"data":{"name":"R"},"mark":{"type":"line","color":"#f0a0f0","strokeWidth":1.1,"interpolate":"monotone","clip":true},"encoding":{"detail":{"field":"k","type":"nominal"}}},
{"data":{"name":"lab"},"mark":{"type":"text","align":"right","baseline":"alphabetic","font":"DejaVu Sans","fontSize":12,"fontWeight":"bold","color":"#c8f4f4","dx":-1},"encoding":{"text":{"field":"t"}}},
{"data":{"values":[{"t":"500 µV/Div","x":0.75,"y":-456}]},"mark":{"type":"text","align":"left","baseline":"alphabetic","font":"DejaVu Sans","fontSize":20,"color":"#e4e4e4"},"encoding":{"text":{"field":"t"}}},
{"data":{"values":[{"t":"10 ms/Div","x":80,"y":-456}]},"mark":{"type":"text","align":"right","baseline":"alphabetic","font":"DejaVu Sans","fontSize":20,"color":"#e4e4e4","dx":-2},"encoding":{"text":{"field":"t"}}}
]}
]
}
